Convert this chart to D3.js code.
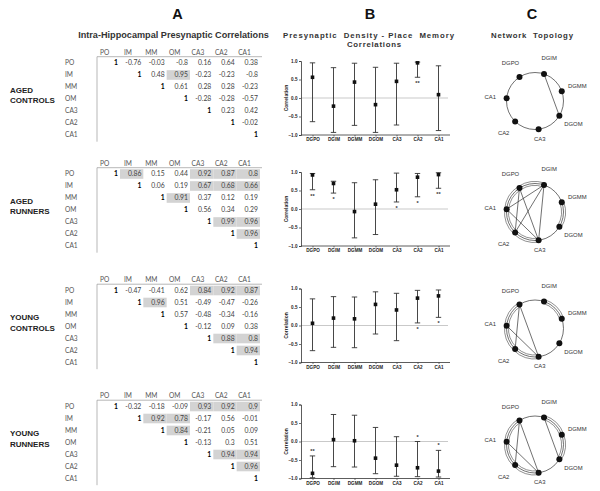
<!DOCTYPE html>
<html><head><meta charset="utf-8">
<script src="https://cdn.jsdelivr.net/npm/d3@7/dist/d3.min.js"></script>
<style>body{margin:0;background:#fff}svg{display:block}</style>
</head><body>
<svg id="c" width="600" height="491"></svg>
<script>
// ---------- DATA ----------
const regions = ["PO","IM","MM","OM","CA3","CA2","CA1"];
const subregions = ["DGPO","DGIM","DGMM","DGOM","CA3","CA2","CA1"];
const groupLabels = [["AGED","CONTROLS"],["AGED","RUNNERS"],["YOUNG","CONTROLS"],["YOUNG","RUNNERS"]];
const yTicks = [1.0, 0.5, 0.0, -0.5, -1.0];

// upper-triangle correlation rows (row i holds columns i..6)
const corrAgedControls = [
  [1,-0.76,-0.03,-0.8,0.16,0.64,0.38],
  [1,0.48,0.95,-0.23,-0.23,-0.8],
  [1,0.61,0.28,0.28,-0.23],
  [1,-0.28,-0.28,-0.57],
  [1,0.23,0.42],
  [1,-0.02],
  [1]];
const corrAgedRunners = [
  [1,0.86,0.15,0.44,0.92,0.87,0.8],
  [1,0.06,0.19,0.67,0.68,0.66],
  [1,0.91,0.37,0.12,0.19],
  [1,0.56,0.34,0.29],
  [1,0.99,0.96],
  [1,0.96],
  [1]];
const corrYoungControls = [
  [1,-0.47,-0.41,0.62,0.84,0.92,0.87],
  [1,0.96,0.51,-0.49,-0.47,-0.26],
  [1,0.57,-0.48,-0.34,-0.16],
  [1,-0.12,0.09,0.38],
  [1,0.88,0.8],
  [1,0.94],
  [1]];
const corrYoungRunners = [
  [1,-0.32,-0.18,-0.09,0.93,0.92,0.9],
  [1,0.92,0.78,-0.17,0.56,-0.01],
  [1,0.84,-0.21,0.05,0.09],
  [1,-0.13,0.3,0.51],
  [1,0.94,0.94],
  [1,0.96],
  [1]];

// significant (shaded) pairs = network edges
const sigAgedControls = [["IM","OM"]];
const sigAgedRunners = [["PO","IM"],["PO","CA3"],["PO","CA2"],["PO","CA1"],["IM","CA3"],["IM","CA2"],["IM","CA1"],["MM","OM"],["CA3","CA2"],["CA3","CA1"],["CA2","CA1"]];
const sigYoungControls = [["PO","CA3"],["PO","CA2"],["PO","CA1"],["IM","MM"],["CA3","CA2"],["CA3","CA1"],["CA2","CA1"]];
const sigYoungRunners = [["PO","CA3"],["PO","CA2"],["PO","CA1"],["IM","MM"],["IM","OM"],["MM","OM"],["CA3","CA2"],["CA3","CA1"],["CA2","CA1"]];

// presynaptic density - place memory correlations (r, CI low, CI high)
const memAgedControls  = [0.56,-0.22,0.43,-0.18,0.45,0.95,0.09];
const lowAgedControls  = [-0.64,-0.93,-0.74,-0.93,-0.73,0.56,-0.88];
const highAgedControls = [0.95,0.82,0.94,0.83,0.94,0.97,0.87];
const starsAgedControls = ["","","","","","**",""];

const memAgedRunners  = [0.92,0.69,-0.07,0.13,0.52,0.86,0.93];
const lowAgedRunners  = [0.52,0.43,-0.78,-0.69,0.19,0.33,0.56];
const highAgedRunners = [0.96,0.75,0.71,0.79,0.97,0.96,0.98];
const starsAgedRunners = ["**","*","","","*","*","**"];

const memYoungControls  = [0.06,0.2,0.18,0.57,0.42,0.74,0.8];
const lowYoungControls  = [-0.68,-0.59,-0.6,-0.23,-0.41,0.07,0.22];
const highYoungControls = [0.72,0.78,0.77,0.91,0.87,0.95,0.96];
const starsYoungControls = ["","","","","","*","*"];

const memYoungRunners  = [-0.86,0.05,0.02,-0.45,-0.64,-0.71,-0.8];
const lowYoungRunners  = [-0.98,-0.68,-0.69,-0.87,-0.94,-0.95,-0.96];
const highYoungRunners = [-0.39,0.73,0.71,0.38,0.13,0.0,-0.24];
const starsYoungRunners = ["**","","","","","*","*"];

// ---------- assemble ----------
const tables = [corrAgedControls,corrAgedRunners,corrYoungControls,corrYoungRunners];
const sigs = [sigAgedControls,sigAgedRunners,sigYoungControls,sigYoungRunners];
const mems = [memAgedControls,memAgedRunners,memYoungControls,memYoungRunners];
const lows = [lowAgedControls,lowAgedRunners,lowYoungControls,lowYoungRunners];
const highs = [highAgedControls,highAgedRunners,highYoungControls,highYoungRunners];
const stars = [starsAgedControls,starsAgedRunners,starsYoungControls,starsYoungRunners];

// ---------- LAYOUT ----------
const bases = [52,163,279.5,395.5];
const svg = d3.select("#c");
const HEAD = "'Liberation Sans', Arial, sans-serif";
const TBL = "Lato, 'Open Sans', sans-serif";

function fit(sel, w){
  const len = sel.node().getComputedTextLength();
  const fs = parseFloat(sel.attr("font-size"));
  sel.attr("font-size", fs*w/len);
}

// Panel letters and titles
[["A",177.5],["B",370],["C",532]].forEach(([t,x])=>{
  svg.append("text").attr("x",x).attr("y",19).attr("text-anchor","middle")
    .attr("font-family",HEAD).attr("font-weight","bold").attr("font-size",14.5).attr("fill","#111").text(t);
});
fit(svg.append("text").attr("x",173.5).attr("y",38).attr("text-anchor","middle")
  .attr("font-family",HEAD).attr("font-weight","bold").attr("font-size",9).attr("fill","#333")
  .text("Intra-Hippocampal Presynaptic Correlations"),191);
svg.append("text").attr("x",368.5).attr("y",38).attr("text-anchor","middle")
  .attr("font-family",HEAD).attr("font-weight","bold").attr("font-size",7.8).attr("fill","#333")
  .attr("textLength",171).attr("lengthAdjust","spacing").attr("xml:space","preserve")
  .text("Presynaptic  Density - Place  Memory");
svg.append("text").attr("x",374).attr("y",47).attr("text-anchor","middle")
  .attr("font-family",HEAD).attr("font-weight","bold").attr("font-size",7.8).attr("fill","#333")
  .attr("textLength",54).attr("lengthAdjust","spacing").text("Correlations");
svg.append("text").attr("x",532).attr("y",38).attr("text-anchor","middle")
  .attr("font-family",HEAD).attr("font-weight","bold").attr("font-size",7.8).attr("fill","#333")
  .attr("textLength",82).attr("lengthAdjust","spacing").attr("xml:space","preserve")
  .text("Network  Topology");

// ---------- Panel A tables ----------
const colStep = 23.33;
const colRight = j => 120 + colStep*j;
tables.forEach((tbl,g)=>{
  const b = bases[g];
  const G = svg.append("g");
  const sigSet = new Set(sigs[g].map(p=>p.join("-")));
  groupLabels[g].forEach((l,k)=>{
    G.append("text").attr("x",10).attr("y",b+40.5+k*10.5).attr("font-family",HEAD)
      .attr("font-weight","bold").attr("font-size",8).attr("fill","#222").text(l);
  });
  regions.forEach((r,j)=>{
    G.append("text").attr("x",colRight(j)-15.4).attr("y",b+2.5).attr("text-anchor","middle")
      .attr("font-family",TBL).attr("font-size",6.6).attr("fill","#555").text(r);
  });
  tbl.forEach((row,i)=>{
    const ry = b+11+12*i;
    row.forEach((v,k)=>{
      const j = i+k;
      if (sigSet.has(regions[i]+"-"+regions[j])){
        G.append("rect").attr("x",colRight(j)-colStep).attr("y",ry-4.8)
          .attr("width",colStep).attr("height",9.6).attr("fill","#d3d3d3");
      }
    });
  });
  G.append("line").attr("x1",97).attr("x2",262).attr("y1",b+4.7).attr("y2",b+4.7)
    .attr("stroke","#999").attr("stroke-width",0.7);
  G.append("line").attr("x1",97).attr("x2",97).attr("y1",b+4.7).attr("y2",b+89.7)
    .attr("stroke","#999").attr("stroke-width",0.7);
  tbl.forEach((row,i)=>{
    const ry = b+11+12*i;
    G.append("text").attr("x",65).attr("y",ry+2.4).attr("font-family",TBL)
      .attr("font-size",6.6).attr("fill","#555").text(regions[i]);
    row.forEach((v,k)=>{
      const j=i+k;
      G.append("text").attr("x",colRight(j)-2).attr("y",ry+2.4).attr("text-anchor","end")
        .attr("font-family",TBL).attr("font-size",6.8)
        .attr("font-weight", v===1?"bold":"normal")
        .attr("fill", v===1?"#000":"#444").text(String(v));
    });
  });
});

// ---------- Panel B plots ----------
mems.forEach((mem,g)=>{
  const b = bases[g];
  const G = svg.append("g");
  const x = d3.scalePoint().domain(subregions).range([302,449]).padding(0.5);
  const y = d3.scaleLinear().domain([-1,1]).range([b+83,b+9]);
  G.append("line").attr("x1",301).attr("x2",448).attr("y1",y(0)).attr("y2",y(0))
    .attr("stroke","#bbb").attr("stroke-width",0.8);
  const ya = G.append("g").attr("transform","translate(301,0)")
    .call(d3.axisLeft(y).tickValues(yTicks).tickSize(2).tickPadding(1.5).tickFormat(d3.format(".1f")));
  ya.select(".domain").attr("stroke","#333").attr("stroke-width",0.8);
  ya.selectAll(".tick line").attr("stroke","#333").attr("stroke-width",0.7);
  ya.selectAll("text").attr("font-family",HEAD).attr("font-weight","bold").attr("font-size",4.6).attr("fill","#222");
  const xa = G.append("g").attr("transform",`translate(0,${y(-1)})`)
    .call(d3.axisBottom(x).tickSize(1.5).tickPadding(1.5).tickSizeOuter(0));
  xa.select(".domain").attr("stroke","#333").attr("stroke-width",0.8).attr("d",`M301,0H450`);
  xa.selectAll(".tick line").attr("stroke","#333").attr("stroke-width",0.7);
  xa.selectAll("text").attr("font-family",HEAD).attr("font-weight","bold").attr("font-size",4.6).attr("fill","#222");
  G.append("text").attr("transform",`translate(287.5,${y(0)}) rotate(-90)`).attr("text-anchor","middle")
    .attr("font-family",HEAD).attr("font-weight","bold").attr("font-size",5).attr("fill","#222").text("Correlation");
  subregions.forEach((s,i)=>{
    const cx = x(s);
    const lo = lows[g][i], hi = highs[g][i];
    G.append("line").attr("x1",cx).attr("x2",cx).attr("y1",y(lo)).attr("y2",y(hi))
      .attr("stroke","#333").attr("stroke-width",0.9);
    [lo,hi].forEach(v=>G.append("line").attr("x1",cx-2.7).attr("x2",cx+2.7).attr("y1",y(v)).attr("y2",y(v))
      .attr("stroke","#333").attr("stroke-width",0.9));
    G.append("rect").attr("x",cx-1.8).attr("y",y(mem[i])-1.8).attr("width",3.6).attr("height",3.6).attr("fill","#111");
    const st = stars[g][i];
    if (st){
      const below = mem[i] > 0;
      const sy = below ? y(lo)+8 : y(hi)-3;
      G.append("text").attr("x",cx).attr("y",sy).attr("text-anchor","middle")
        .attr("font-family",HEAD).attr("font-weight","bold").attr("font-size",5.5).attr("fill","#333").text(st);
    }
  });
});

// ---------- Panel C networks ----------
const step = 2*Math.PI/7;
const a0 = -33*Math.PI/180;
sigs.forEach((sig,g)=>{
  const cx = 535, cy = bases[g]+49, R = 28.5;
  const G = svg.append("g");
  const ang = i => a0 + i*step;
  const pos = (i,r) => [cx + r*Math.sin(ang(i)), cy - r*Math.cos(ang(i))];
  G.append("circle").attr("cx",cx).attr("cy",cy).attr("r",R).attr("fill","none")
    .attr("stroke","#333").attr("stroke-width",0.7);
  sig.forEach(([a,bb])=>{
    let i = regions.indexOf(a), j = regions.indexOf(bb);
    if (i>j) [i,j]=[j,i];
    const adj = (j-i===1) || (i===0 && j===6);
    if (adj){
      const s = (i===0 && j===6) ? 6 : i;
      const t0 = ang(s) - Math.PI/2, t1 = ang(s)+step - Math.PI/2;
      [2,-2].forEach(off=>{
        const p = d3.path(); p.arc(cx,cy,R+off,t0,t1);
        G.append("path").attr("d",p.toString()).attr("fill","none").attr("stroke","#444").attr("stroke-width",0.6);
      });
    } else {
      const p1 = pos(i,R), p2 = pos(j,R);
      G.append("line").attr("x1",p1[0]).attr("y1",p1[1]).attr("x2",p2[0]).attr("y2",p2[1])
        .attr("stroke","#333").attr("stroke-width",0.7);
    }
  });
  subregions.forEach((s,i)=>{
    const p = pos(i,R);
    G.append("circle").attr("cx",p[0]).attr("cy",p[1]).attr("r",3).attr("fill","#111");
    const lr = s==="CA3" ? 38 : 45;
    const q = pos(i,lr);
    G.append("text").attr("x",q[0]).attr("y",q[1]+2).attr("text-anchor","middle")
      .attr("font-family",HEAD).attr("font-size",5.9).attr("fill","#333").text(s);
  });
});
</script>
</body></html>
